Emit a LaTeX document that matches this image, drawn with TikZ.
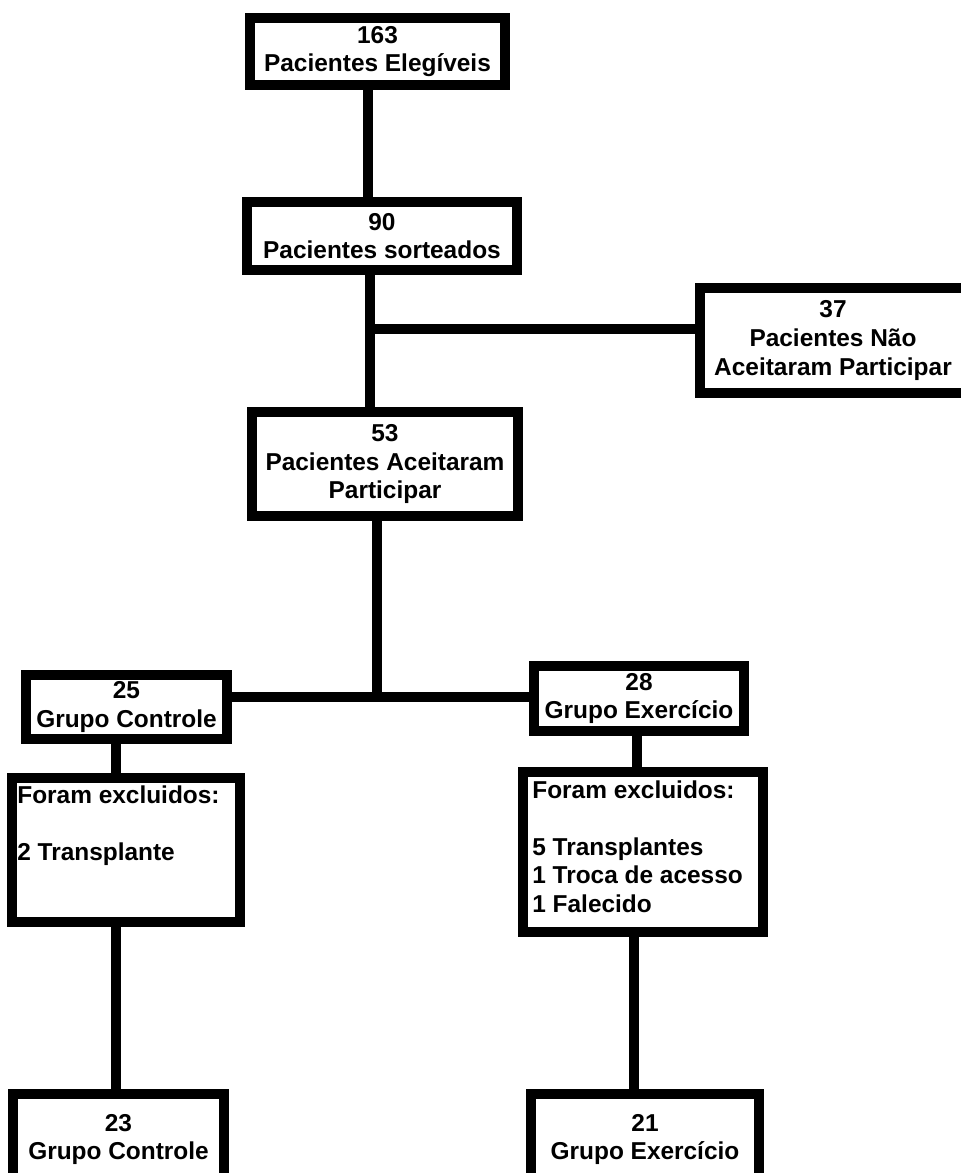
\documentclass[tikz,border=0pt]{standalone}
\usepackage{fontspec}
\setmainfont{Liberation Sans}
\begin{document}
\begin{tikzpicture}[x=0.2mm, y=-0.2mm,
    caixa/.style={draw, line width=2mm, rectangle, inner sep=0pt, align=center,
        font=\fontsize{13.9}{16.3}\selectfont\bfseries},
    lista/.style={inner sep=0pt, align=left, anchor=north west,
        font=\fontsize{13.9}{16.3}\selectfont\bfseries},
    liga/.style={line width=2mm}]
    \useasboundingbox (0,0) rectangle (961,1173);
    \clip (0,0) rectangle (961,1173);

    \node[caixa, minimum width=5.10cm, minimum height=1.34cm] (eleg) at (377.5,51.5) {163\\Pacientes Elegíveis};
    \node[caixa, minimum width=5.40cm, minimum height=1.36cm] (sort) at (382,236) {90\\Pacientes sorteados};
    \node[caixa, minimum width=5.32cm, minimum height=2.10cm] (naoac) at (833,340.5) {37\\Pacientes Não\\Aceitaram Participar};
    \node[caixa, minimum width=5.32cm, minimum height=2.08cm] (aceit) at (385,464) {53\\Pacientes Aceitaram\\Participar};

    \node[caixa, minimum width=4.02cm, minimum height=1.28cm] (ctrl) at (126.5,707) {25\\Grupo Controle};
    \node[caixa, minimum width=4.20cm, minimum height=1.30cm] (exer) at (639,698.5) {28\\Grupo Exercício};

    \node[caixa, minimum width=4.56cm, minimum height=2.88cm] (excl1) at (126,850) {};
    \node[caixa, minimum width=4.80cm, minimum height=3.20cm] (excl2) at (643,852) {};
        \node[lista] (excl1txt) at (17,785) {Foram excluidos:\\\mbox{}\\2 Transplante};
        \node[lista] (excl2txt) at (532,780) {Foram excluidos:\\\mbox{}\\5 Transplantes\\1 Troca de acesso\\1 Falecido};

    \node[caixa, minimum width=4.22cm, minimum height=1.82cm] (ctrlfim) at (118.5,1139.5) {23\\Grupo Controle};
    \node[caixa, minimum width=4.56cm, minimum height=1.82cm] (exerfim) at (645,1139.5) {21\\Grupo Exercício};

    \coordinate (sA) at (368,0);
    \coordinate (sB) at (370,329);
    \coordinate (sC) at (377,697);
    \coordinate (sD) at (116,0);
    \coordinate (sE) at (637,0);
    \coordinate (sG) at (634,0);

    \draw[liga] (eleg.south -| sA) -- (sort.north -| sA);
    \draw[liga] (sort.south -| sB) -- (aceit.north -| sB);
    \draw[liga] (sB) -- (naoac.west |- sB);
    \draw[liga] (aceit.south -| sC) -- (sC);
    \draw[liga] (ctrl.east |- sC) -- (exer.west |- sC);
    \draw[liga] (ctrl.south -| sD) -- (excl1.north -| sD);
    \draw[liga] (exer.south -| sE) -- (excl2.north -| sE);
    \draw[liga] (excl1.south -| sD) -- (ctrlfim.north -| sD);
    \draw[liga] (excl2.south -| sG) -- (exerfim.north -| sG);
\end{tikzpicture}
\end{document}
